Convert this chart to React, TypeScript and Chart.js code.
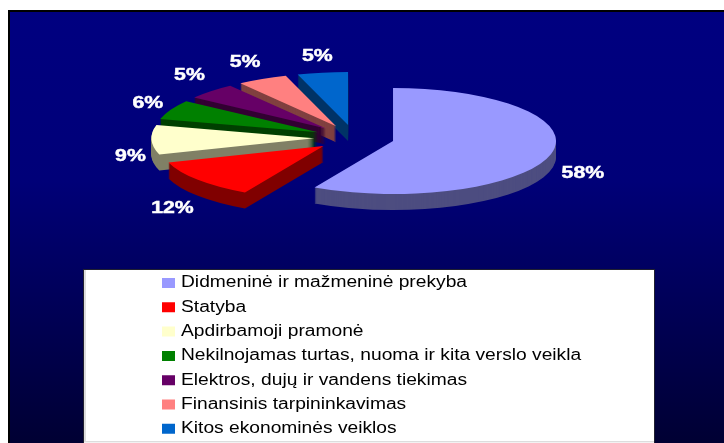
import React, { useEffect, useRef } from "react";
import { Chart, registerables } from "chart.js";

Chart.register(...registerables);

const categories = [
  "Didmeninė ir mažmeninė prekyba",
  "Statyba",
  "Apdirbamoji pramonė",
  "Nekilnojamas turtas, nuoma ir kita verslo veikla",
  "Elektros, dujų ir vandens tiekimas",
  "Finansinis tarpininkavimas",
  "Kitos ekonominės veiklos",
];
const shares = [58, 12, 9, 6, 5, 5, 5];
const topColors = ["#9999ff", "#ff0000", "#ffffcc", "#008000", "#660066", "#ff8080", "#0066cc"];
const sideColors = ["#4d4d80", "#800000", "#808066", "#004000", "#330033", "#804040", "#003366"];
const sideOrder = [6, 5, 4, 3, 2, 1, 0];
const labelNudge = [[0, 16], [0, 22], [12, 16], [7, -2], [2, -8], [-2, -7], [0, -6]];

const W = 724;
const H = 443;
const SQUASH = 0.325;
const RADIUS = 163;
const EXPLODE = 40;
const DEPTH = 16;
const LABEL_GAP = 33;
const LEGEND_STRETCH = 1.2;
const LEGEND_TEXT_SHIFT = 2;

const pieScene = {
  id: "pieScene",
  afterLayout(chart: any) {
    const lg = chart.legend;
    lg.left = 153.7;
    lg.right = 654;
    lg.top = 266.7;
    lg.bottom = lg.top + 200;
  },
  afterDatasetsUpdate(chart: any) {
    const arcs = chart.getDatasetMeta(0).data;
    arcs.forEach((arc: any) => {
      const mid = (arc.startAngle + arc.endAngle) / 2;
      arc.$cx = arc.x;
      arc.$cy = arc.y;
      arc.x += Math.cos(mid) * EXPLODE;
      arc.y += Math.sin(mid) * EXPLODE;
    });
  },
  beforeDraw(chart: any) {
    const { ctx } = chart;
    ctx.save();
    ctx.fillStyle = "#ffffff";
    ctx.fillRect(0, 0, W, H);
    ctx.fillStyle = "#000000";
    ctx.fillRect(8, 10, W - 8, H - 10);
    const g = ctx.createLinearGradient(0, 12, 0, H);
    g.addColorStop(0, "#000080");
    g.addColorStop((180 - 12) / (H - 12), "#000078");
    g.addColorStop(1, "#000033");
    ctx.fillStyle = g;
    ctx.fillRect(10, 12, W - 10, H - 12);
    ctx.fillStyle = "#202030";
    ctx.fillRect(83, 269, 572, 174);
    ctx.fillStyle = "#ffffff";
    ctx.fillRect(84, 270, 570, 173);
    ctx.fillStyle = "#dddddd";
    ctx.fillRect(84, 270, 2, 171);
    ctx.fillRect(84, 441, 570, 1);
    ctx.fillStyle = "#f2f2f2";
    ctx.fillRect(84, 442, 570, 1);
    ctx.restore();
    // The reference's legend text is stretched sideways; widen the glyphs only.
    const plain = ctx.fillText;
    ctx.fillText = function (t: string, x: number, y: number) {
      ctx.save();
      ctx.translate(x - LEGEND_TEXT_SHIFT, y);
      ctx.scale(LEGEND_STRETCH, 1);
      plain.call(ctx, t, 0, 0);
      ctx.restore();
    };
  },
  beforeDatasetsDraw(chart: any) {
    const { ctx } = chart;
    delete ctx.fillText;
    const arcs = chart.getDatasetMeta(0).data;
    const cy = arcs[0].$cy;
    ctx.save();
    ctx.translate(0, cy);
    ctx.scale(1, SQUASH);
    ctx.translate(0, -cy);
    sideOrder.forEach((i) => {
      const a = arcs[i];
      ctx.fillStyle = sideColors[i];
      for (let d = DEPTH; d >= 1; d--) {
        const dy = d / SQUASH;
        ctx.beginPath();
        ctx.moveTo(a.x, a.y + dy);
        ctx.arc(a.x, a.y + dy, a.outerRadius, a.startAngle, a.endAngle);
        ctx.closePath();
        ctx.fill();
      }
    });
  },
  afterDatasetsDraw(chart: any) {
    const { ctx } = chart;
    ctx.restore();
    const arcs = chart.getDatasetMeta(0).data;
    ctx.save();
    ctx.fillStyle = "#ffffff";
    ctx.strokeStyle = "#ffffff";
    ctx.lineWidth = 0.5;
    ctx.font = "bold 17px 'Liberation Sans'";
    ctx.textAlign = "center";
    ctx.textBaseline = "middle";
    arcs.forEach((a: any, i: number) => {
      const mid = (a.startAngle + a.endAngle) / 2;
      const r = RADIUS + EXPLODE + LABEL_GAP;
      const x = a.$cx + Math.cos(mid) * r + labelNudge[i][0];
      const y = a.$cy + Math.sin(mid) * r * SQUASH + labelNudge[i][1];
      ctx.save();
      ctx.translate(x, y);
      ctx.scale(1.25, 1);
      ctx.fillText(`${shares[i]}%`, 0, 0);
      ctx.strokeText(`${shares[i]}%`, 0, 0);
      ctx.restore();
    });
    ctx.restore();
  },
};

export default function App() {
  const ref = useRef<HTMLCanvasElement>(null);
  useEffect(() => {
    const chart = new Chart(ref.current!, {
      type: "pie",
      data: {
        labels: categories,
        datasets: [
          {
            data: shares,
            backgroundColor: topColors,
            borderWidth: 0,
            radius: RADIUS,
            clip: false,
          } as any,
        ],
      },
      options: {
        responsive: false,
        animation: false,
        events: [],
        layout: { padding: { left: 0, top: 0, right: 15.4, bottom: 167.4 } },
        plugins: {
          tooltip: { enabled: false },
          legend: {
            position: "chartArea" as any,
            align: "start",
            labels: {
              boxWidth: 13,
              boxHeight: 10,
              padding: 8.3,
              color: "#000000",
              font: { family: "'Liberation Sans'", size: 16 },
            },
          },
        },
      },
      plugins: [pieScene],
    });
    return () => chart.destroy();
  }, []);
  return (
    <div style={{ position: "fixed", left: 0, top: 0, width: W, height: H }}>
      <canvas ref={ref} width={W} height={H} style={{ display: "block" }} />
    </div>
  );
}
